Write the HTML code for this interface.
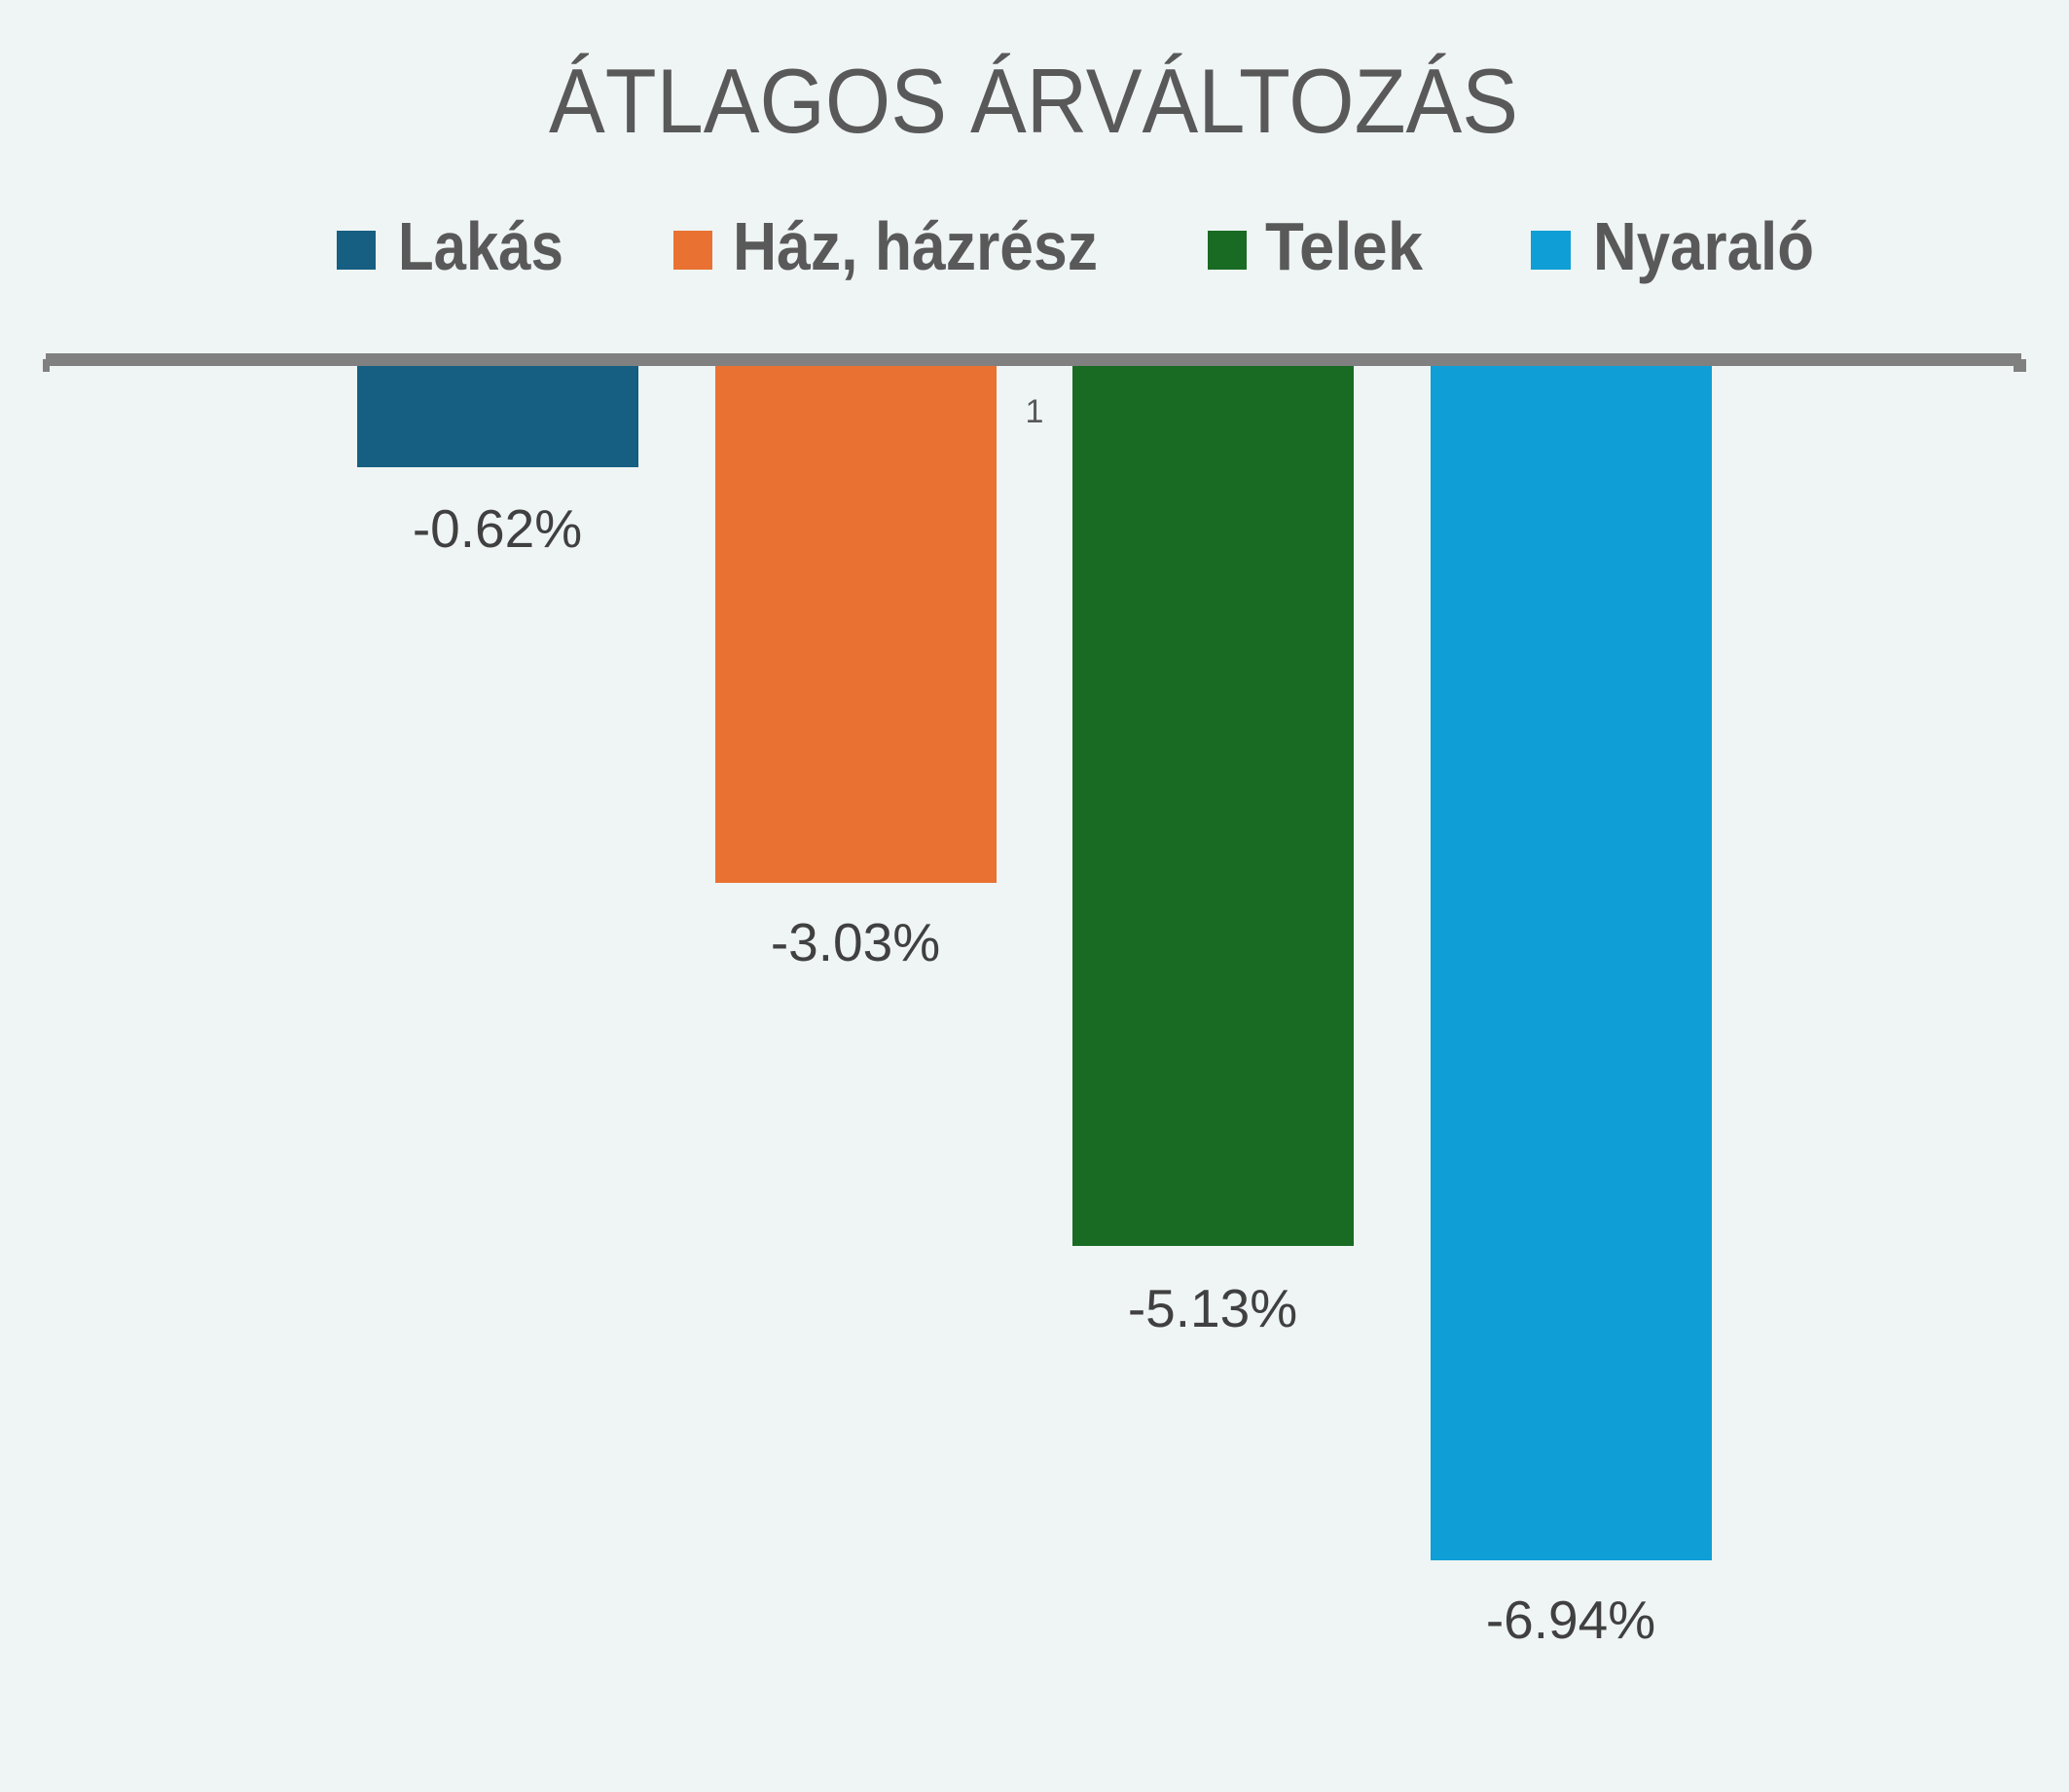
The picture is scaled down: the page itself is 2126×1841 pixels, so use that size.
<!DOCTYPE html>
<html><head><meta charset="utf-8"><style>
html,body{margin:0;padding:0;background:#eff5f4;}
svg{display:block;}
</style></head><body>
<svg width="2126" height="1841" viewBox="0 0 2126 1841" xmlns="http://www.w3.org/2000/svg">
<rect width="2126" height="1841" fill="#eff5f4"/>
<text x="1062" y="136" text-anchor="middle" font-family="Liberation Sans, sans-serif" font-size="94" fill="#595959" textLength="996" lengthAdjust="spacingAndGlyphs">ÁTLAGOS ÁRVÁLTOZÁS</text>
<g font-family="Liberation Sans, sans-serif" font-weight="bold" font-size="70" fill="#595959">
<rect x="346" y="237" width="40" height="40" fill="#165f82"/>
<text x="409" y="277" textLength="170" lengthAdjust="spacingAndGlyphs">Lakás</text>
<rect x="692" y="237" width="40" height="40" fill="#e97132"/>
<text x="753" y="277" textLength="375" lengthAdjust="spacingAndGlyphs">Ház, házrész</text>
<rect x="1241" y="237" width="40" height="40" fill="#196b24"/>
<text x="1300" y="277" textLength="162" lengthAdjust="spacingAndGlyphs">Telek</text>
<rect x="1573" y="237" width="41" height="40" fill="#0f9ed5"/>
<text x="1637" y="277" textLength="227" lengthAdjust="spacingAndGlyphs">Nyaraló</text>
</g>
<rect x="367" y="376" width="289" height="104" fill="#165f82"/>
<rect x="735" y="376" width="289" height="531" fill="#e97132"/>
<rect x="1102" y="376" width="289" height="904" fill="#196b24"/>
<rect x="1470" y="376" width="289" height="1227" fill="#0f9ed5"/>
<rect x="47" y="363" width="2030" height="13" fill="#808080"/>
<rect x="44" y="369" width="7" height="13" fill="#808080"/>
<rect x="2069" y="369" width="13" height="13" fill="#808080"/>
<g font-family="Liberation Sans, sans-serif" font-size="55" fill="#404040" text-anchor="middle">
<text x="511" y="562">-0.62%</text>
<text x="879" y="987">-3.03%</text>
<text x="1246" y="1363">-5.13%</text>
<text x="1614" y="1683">-6.94%</text>
</g>
<text x="1063" y="434" text-anchor="middle" font-family="Liberation Sans, sans-serif" font-size="34" fill="#595959">1</text>
</svg>
</body></html>
